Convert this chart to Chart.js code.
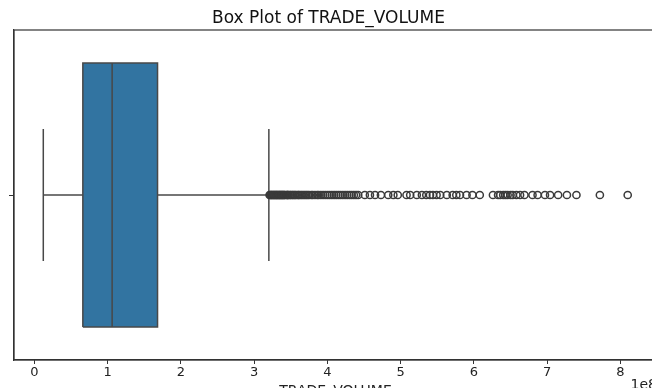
<!DOCTYPE html>
<html>
<head>
<meta charset="utf-8">
<script src="https://cdn.jsdelivr.net/npm/chart.js@4.4.1/dist/chart.umd.min.js"></script>
<style>
  html, body { margin: 0; padding: 0; background: #fff; overflow: hidden; }
  #wrap { position: absolute; left: 0; top: 0; width: 680px; height: 400px; }
</style>
</head>
<body>
<div id="wrap"><canvas id="chart" width="680" height="400"></canvas></div>
<script>
// box plot stats, x values in units of 1e8
const q1 = 0.66;
const median = 1.06;
const q3 = 1.68;
const whiskerLow = 0.12;
const whiskerHigh = 3.2;
const xTicks = [0, 1, 2, 3, 4, 5, 6, 7, 8];

// fliers
const outliers = [
  3.21, 3.22, 3.23, 3.24, 3.25, 3.26, 3.27, 3.28, 3.29, 3.30, 3.31, 3.32,
  3.33, 3.34, 3.35, 3.36, 3.37, 3.38, 3.39, 3.40, 3.41, 3.42, 3.44, 3.45,
  3.46, 3.47, 3.49, 3.50, 3.52, 3.53, 3.55, 3.56, 3.58, 3.60, 3.61, 3.63,
  3.65, 3.67, 3.69, 3.71, 3.73, 3.75, 3.78, 3.80, 3.83, 3.86,
  3.88, 3.91, 3.94, 3.97, 4.00, 4.03, 4.06, 4.09, 4.12, 4.15, 4.18, 4.21,
  4.24, 4.27, 4.30, 4.33, 4.36, 4.39, 4.42,
  4.51, 4.58, 4.65, 4.73, 4.83, 4.90, 4.96, 5.08, 5.13, 5.22, 5.29, 5.35,
  5.40, 5.44, 5.49, 5.54, 5.63, 5.71, 5.76, 5.81, 5.90, 5.98, 6.08, 6.26,
  6.33, 6.36, 6.40, 6.43, 6.46, 6.50, 6.53, 6.58, 6.63, 6.69, 6.80, 6.87,
  6.97, 7.04, 7.15, 7.27, 7.40, 7.72, 8.10
];

const boxHalf = 0.4;
const capHalf = 0.2;
const lineColor = '#484848';
const boxColor = '#3274a1';

const seg = (pts, extra) => Object.assign({
  type: 'scatter',
  data: pts,
  showLine: true,
  borderColor: lineColor,
  borderWidth: 1.5,
  pointRadius: 0,
  fill: false,
  order: 1
}, extra || {});

// frame + offset text like matplotlib
const framePlugin = {
  id: 'frame',
  afterDraw(chart) {
    const { ctx, chartArea: a } = chart;
    ctx.save();
    ctx.strokeStyle = '#333';
    ctx.lineWidth = 1.2;
    ctx.strokeRect(a.left, a.top, a.right - a.left, a.bottom - a.top);
    ctx.fillStyle = '#222';
    ctx.font = '14px "DejaVu Sans"';
    ctx.textAlign = 'right';
    ctx.textBaseline = 'top';
    ctx.fillText('1e8', a.right, a.bottom + 18);
    ctx.restore();
  }
};

new Chart(document.getElementById('chart'), {
  type: 'scatter',
  data: {
    datasets: [
      seg([{ x: median, y: -boxHalf }, { x: median, y: boxHalf }]),
      seg([{ x: whiskerLow, y: 0 }, { x: q1, y: 0 }]),
      seg([{ x: q3, y: 0 }, { x: whiskerHigh, y: 0 }]),
      seg([{ x: whiskerLow, y: -capHalf }, { x: whiskerLow, y: capHalf }]),
      seg([{ x: whiskerHigh, y: -capHalf }, { x: whiskerHigh, y: capHalf }]),
      {
        type: 'scatter',
        data: outliers.map(v => ({ x: v, y: 0 })),
        pointRadius: 3.6,
        pointBorderWidth: 1.5,
        pointBackgroundColor: 'rgba(0,0,0,0)',
        pointBorderColor: '#3a3a3a',
        order: 0
      },
      seg([
        { x: q1, y: -boxHalf }, { x: q3, y: -boxHalf }, { x: q3, y: boxHalf },
        { x: q1, y: boxHalf }, { x: q1, y: -boxHalf }
      ], { fill: 'shape', backgroundColor: boxColor, order: 5 })
    ]
  },
  options: {
    responsive: false,
    animation: false,
    layout: { padding: { left: 0, right: 23, top: 0, bottom: 0 } },
    plugins: {
      legend: { display: false },
      tooltip: { enabled: false },
      title: {
        display: true,
        text: 'Box Plot of TRADE_VOLUME',
        color: '#111',
        font: { family: 'DejaVu Sans', size: 17, weight: 'normal', lineHeight: '20px' },
        padding: { top: 9, bottom: 1 }
      }
    },
    scales: {
      x: {
        type: 'linear',
        min: -0.28,
        max: 8.5,
        afterBuildTicks: s => { s.ticks = xTicks.map(v => ({ value: v })); },
        afterFit: s => { s.height = 40; },
        ticks: { color: '#222', font: { family: 'DejaVu Sans', size: 13 }, padding: 1, maxRotation: 0 },
        grid: { drawOnChartArea: false, tickLength: 4, color: '#333' },
        border: { color: '#333', width: 1.2 },
        title: {
          display: true,
          text: 'TRADE_VOLUME',
          color: '#222',
          font: { family: 'DejaVu Sans', size: 14 },
          padding: { top: 0, bottom: 0 }
        }
      },
      y: {
        type: 'linear',
        min: -0.5,
        max: 0.5,
        afterBuildTicks: s => { s.ticks = [{ value: 0 }]; },
        afterFit: s => { s.width = 14; },
        ticks: { display: false },
        grid: { drawOnChartArea: false, tickLength: 5, color: '#333' },
        border: { color: '#333', width: 1.2 }
      }
    }
  },
  plugins: [framePlugin]
});
</script>
</body>
</html>
